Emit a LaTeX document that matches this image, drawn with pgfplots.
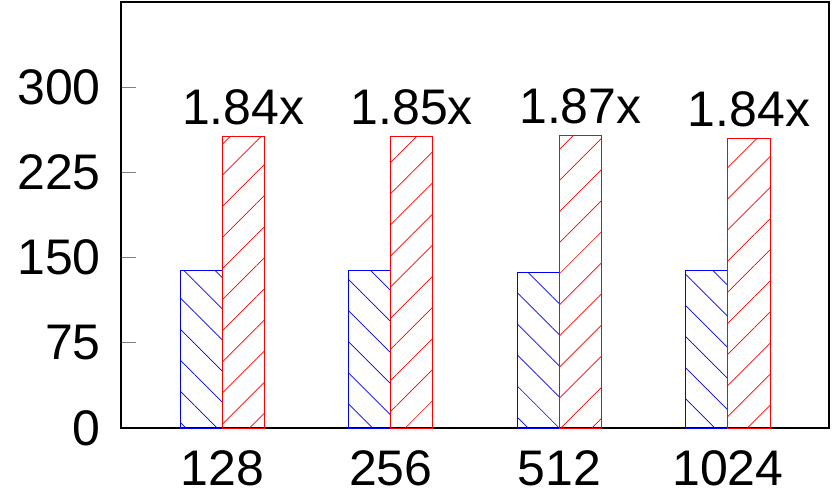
\documentclass[border=0pt]{standalone}
\usepackage{fontspec}
\setmainfont{Liberation Sans}
\usepackage{pgfplots}
\pgfplotsset{compat=1.18}
\usetikzlibrary{patterns.meta}

\newcommand{\bigfont}{\fontsize{50}{60}\selectfont}

\begin{document}
\begin{tikzpicture}
\useasboundingbox (-121pt,-63pt) rectangle (713pt,428pt);
\begin{axis}[
    at={(0,0)}, anchor=south west,
    scale only axis,
    width=708pt, height=426pt,
    xmin=-0.6, xmax=3.6,
    ymin=0, ymax=375,
    ytick={0,75,150,225,300},
    xtick={0,1,2,3},
    xticklabels={\mbox{128},\mbox{256},\mbox{512},\mbox{1024}},
    ytick pos=left,
    tick align=inside,
    major tick length=15pt,
    xtick style={draw=none},
    ytick style={line width=1.2pt},
    axis line style={line width=1.4pt},
    tick label style={font=\bigfont},
    /pgf/number format/assume math mode=true,
    yticklabel style={inner sep=0pt, xshift=-20pt},
    xticklabel style={inner sep=0pt, yshift=-7pt},
    ybar, bar width=0.25,
]
% blue series
\addplot[draw=blue, line width=1pt, bar shift=-0.125,
    pattern={Lines[angle=-45, distance=22pt, line width=0.7pt]}, pattern color=blue]
    coordinates {(0,139.0) (1,138.4) (2,137.2) (3,138.5)};
% red series with speedup labels
\addplot[draw=red, line width=1pt, bar shift=0.125,
    pattern={Lines[angle=45, distance=22pt, line width=0.7pt]}, pattern color=red,
    point meta=explicit symbolic,
    nodes near coords={\pgfplotspointmeta},
    every node near coord/.append style={font=\bigfont, text=black, inner sep=0pt, yshift=11pt}]
    coordinates {(0,256.3) [1.84x] (1,257.0) [1.85x] (2,257.8) [1.87x] (3,254.9) [1.84x]};
\end{axis}
\end{tikzpicture}
\end{document}
